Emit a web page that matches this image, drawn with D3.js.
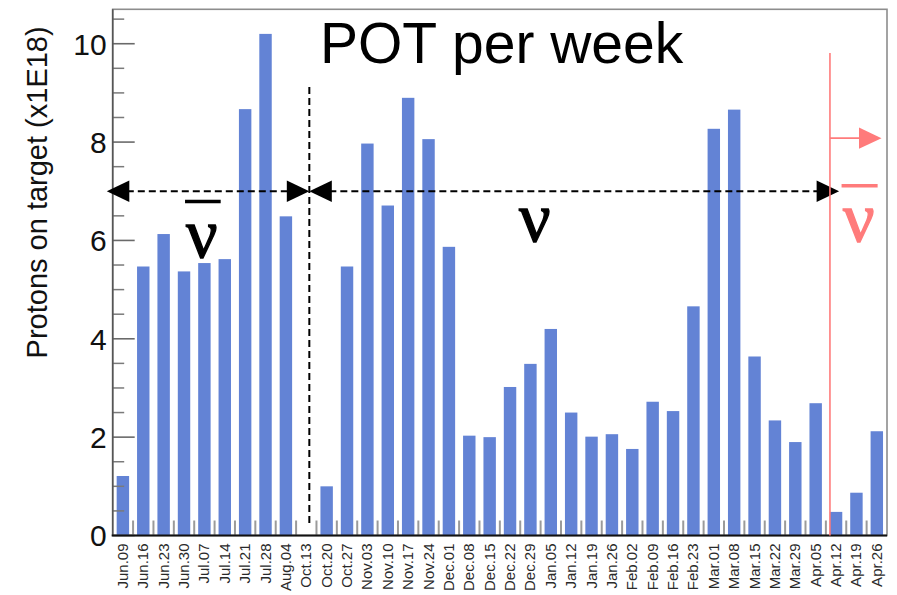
<!DOCTYPE html>
<html>
<head>
<meta charset="utf-8">
<script src="https://cdn.jsdelivr.net/npm/d3@7"></script>
<style>
  body { margin: 0; background: #fff; }
  svg { display: block; }
</style>
</head>
<body>
<div id="chart"></div>
<script>
// week labels (x axis)
const weeks = ["Jun.09", "Jun.16", "Jun.23", "Jun.30", "Jul.07", "Jul.14", "Jul.21", "Jul.28", "Aug.04",
    "Oct.13", "Oct.20", "Oct.27", "Nov.03", "Nov.10", "Nov.17", "Nov.24", "Dec.01", "Dec.08", "Dec.15",
    "Dec.22", "Dec.29", "Jan.05", "Jan.12", "Jan.19", "Jan.26", "Feb.02", "Feb.09", "Feb.16", "Feb.23",
    "Mar.01", "Mar.08", "Mar.15", "Mar.22", "Mar.29", "Apr.05", "Apr.12", "Apr.19", "Apr.26"];

// protons on target per week (x1E18)
const pot = [1.21, 5.47, 6.13, 5.37, 5.54, 5.62, 8.67, 10.2, 6.49,
    0, 1.0, 5.47, 7.97, 6.71, 8.9, 8.06, 5.87, 2.03, 2.0,
    3.02, 3.49, 4.2, 2.5, 2.01, 2.06, 1.76, 2.72, 2.53, 4.66,
    8.27, 8.66, 3.64, 2.34, 1.9, 2.69, 0.48, 0.87, 2.12];

const yTicks = [0, 2, 4, 6, 8, 10];

const width = 897, height = 595;
const margin = { top: 9.3, right: 10, bottom: 59.5, left: 112.7 };
const plotRight = width - margin.right;
const plotBottom = height - margin.bottom;

const svg = d3.select("#chart")
    .append("svg")
    .attr("width", width)
    .attr("height", height)
    .style("font-family", "'Liberation Sans', Arial, sans-serif");

// scales
const x = d3.scaleBand()
    .domain(weeks)
    .range([margin.left, plotRight])
    .paddingInner(0.39)
    .paddingOuter(0.195);

// continuous bin index -> pixel, for the annotations
const xi = d3.scaleLinear()
    .domain([0, weeks.length])
    .range([margin.left, plotRight]);

const y = d3.scaleLinear()
    .domain([0, 10.7])
    .range([plotBottom, margin.top]);

// frame
svg.append("rect")
    .attr("x", margin.left)
    .attr("y", margin.top)
    .attr("width", plotRight - margin.left)
    .attr("height", plotBottom - margin.top)
    .attr("fill", "none")
    .attr("stroke", "#8d8d8d")
    .attr("stroke-width", 1.6);

// bars
svg.selectAll(".bar")
    .data(weeks)
    .join("rect")
    .attr("class", "bar")
    .attr("x", d => x(d))
    .attr("width", x.bandwidth())
    .attr("y", (d, i) => y(pot[i]))
    .attr("height", (d, i) => y(0) - y(pot[i]))
    .attr("fill", "#6383d5");

// y ticks (major + minor, drawn inside the frame)
const minor = d3.range(0, 10.75, 0.5).filter(v => v % 2 !== 0);
svg.selectAll(".ymin")
    .data(minor)
    .join("line")
    .attr("x1", margin.left).attr("x2", margin.left + 11.5)
    .attr("y1", d => y(d)).attr("y2", d => y(d))
    .attr("stroke", "#7a7a7a").attr("stroke-width", 1.5);

svg.selectAll(".ymaj")
    .data(yTicks)
    .join("line")
    .attr("x1", margin.left).attr("x2", margin.left + 22)
    .attr("y1", d => y(d)).attr("y2", d => y(d))
    .attr("stroke", "#6a6a6a").attr("stroke-width", 1.6);

svg.selectAll(".ylab")
    .data(yTicks)
    .join("text")
    .attr("x", margin.left - 6)
    .attr("y", d => y(d))
    .attr("dy", "0.36em")
    .attr("text-anchor", "end")
    .style("font-size", "30px")
    .attr("fill", "#111")
    .text(d => d);

// x ticks at bin edges
svg.selectAll(".xtick")
    .data(d3.range(1, weeks.length))
    .join("line")
    .attr("x1", d => xi(d)).attr("x2", d => xi(d))
    .attr("y1", plotBottom).attr("y2", plotBottom - 15)
    .attr("stroke", "#9a9a9a").attr("stroke-width", 2);

// x labels, rotated
svg.selectAll(".xlab")
    .data(weeks)
    .join("text")
    .attr("transform", d => `translate(${x(d) + x.bandwidth() / 2 + 5},${plotBottom + 8}) rotate(-90)`)
    .attr("text-anchor", "end")
    .style("font-size", "15px")
    .attr("fill", "#2a2a2a")
    .text(d => d);

// axis lines
svg.append("line")
    .attr("x1", margin.left).attr("x2", margin.left)
    .attr("y1", margin.top).attr("y2", plotBottom)
    .attr("stroke", "#555").attr("stroke-width", 1.6);
svg.append("line")
    .attr("x1", margin.left - 1).attr("x2", plotRight)
    .attr("y1", plotBottom).attr("y2", plotBottom)
    .attr("stroke", "#111").attr("stroke-width", 2);

// y axis title
svg.append("text")
    .attr("transform", `translate(47,${(plotBottom + margin.top) / 2 - 80}) rotate(-90)`)
    .attr("text-anchor", "middle")
    .style("font-size", "29px")
    .attr("fill", "#111")
    .text("Protons on target (x1E18)");

// title
svg.append("text")
    .attr("x", 320)
    .attr("y", 63)
    .style("font-size", "57px")
    .attr("fill", "#000")
    .text("POT per week");

// ---- annotations ----
const split = 9.65;      // boundary between the two runs (bin index)
const armY = 7.0;
const redX = 35.2;

function arrowHead(tipX, tipY, dir, color) {
    const len = 22.5, half = 10.7;
    svg.append("path")
        .attr("d", `M${tipX},${tipY} L${tipX - dir * len},${tipY - half} L${tipX - dir * len},${tipY + half} Z`)
        .attr("fill", color);
}

// dashed vertical separator
svg.append("line")
    .attr("x1", xi(split)).attr("x2", xi(split))
    .attr("y1", y(9.12)).attr("y2", y(0.21))
    .attr("stroke", "#000").attr("stroke-width", 2)
    .attr("stroke-dasharray", "7,4");

// dashed double arrows
[[-0.29, split], [split, 35.65]].forEach(([a, b]) => {
    svg.append("line")
        .attr("x1", xi(a) + 20).attr("x2", xi(b) - 20)
        .attr("y1", y(armY)).attr("y2", y(armY))
        .attr("stroke", "#000").attr("stroke-width", 2)
        .attr("stroke-dasharray", "7,4");
    arrowHead(xi(a), y(armY), -1, "#000");
    arrowHead(xi(b), y(armY), 1, "#000");
});

// red line + arrow
const red = "#ff7b7b";
svg.append("line")
    .attr("x1", xi(redX)).attr("x2", xi(redX))
    .attr("y1", y(9.81)).attr("y2", y(0))
    .attr("stroke", red).attr("stroke-width", 1.6);
svg.append("line")
    .attr("x1", xi(redX)).attr("x2", xi(37.73) - 20)
    .attr("y1", y(8.08)).attr("y2", y(8.08))
    .attr("stroke", red).attr("stroke-width", 1.6);
arrowHead(xi(37.73), y(8.08), 1, red);

// nu labels
const nus = [
    { x: 4.38, v: 5.67, bar: [3.55, 5.3], barV: 6.79, color: "#000" },
    { x: 20.72, v: 5.99, bar: null, color: "#000" },
    { x: 36.62, v: 5.98, bar: [35.77, 37.54], barV: 7.11, color: red }
];
nus.forEach(n => {
    svg.append("text")
        .attr("x", xi(n.x))
        .attr("y", y(n.v))
        .attr("text-anchor", "middle")
        .style("font-family", "'Liberation Serif', 'Times New Roman', serif")
        .style("font-size", "70px")
        .attr("fill", n.color)
        .attr("stroke", n.color)
        .attr("stroke-width", 1.3)
        .text("\u03bd");
    if (n.bar) {
        svg.append("line")
            .attr("x1", xi(n.bar[0])).attr("x2", xi(n.bar[1]))
            .attr("y1", y(n.barV)).attr("y2", y(n.barV))
            .attr("stroke", n.color).attr("stroke-width", 3.5);
    }
});
</script>
</body>
</html>
